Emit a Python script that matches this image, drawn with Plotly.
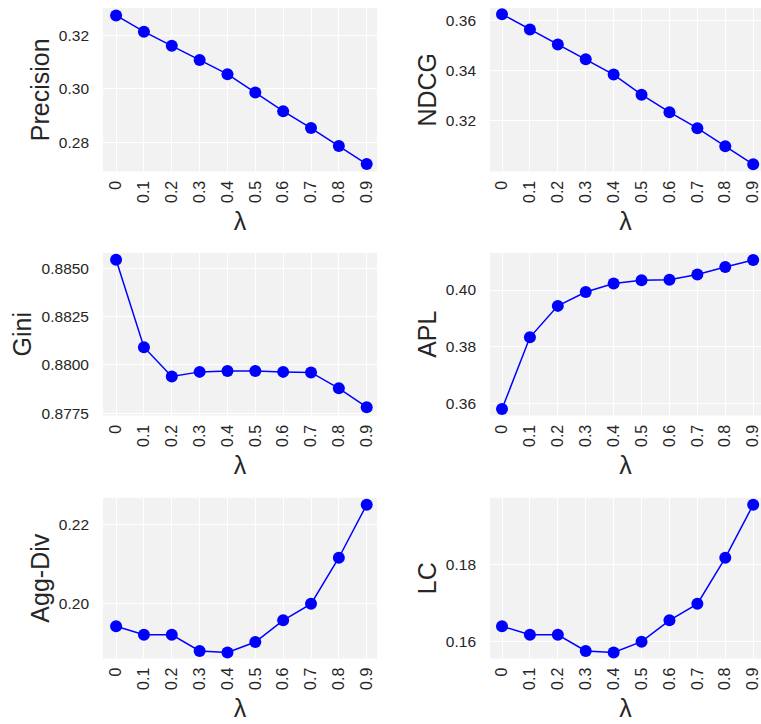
import plotly.graph_objects as go

lambdas = ["0", "0.1", "0.2", "0.3", "0.4", "0.5", "0.6", "0.7", "0.8", "0.9"]

precision = [0.3275, 0.3214, 0.3161, 0.3108, 0.3055, 0.2986, 0.2916, 0.2853, 0.2786, 0.2718]
ndcg = [0.3624, 0.3563, 0.3503, 0.3444, 0.3383, 0.3303, 0.3233, 0.3169, 0.3097, 0.3025]
gini = [0.88544, 0.88092, 0.87940, 0.87964, 0.87969, 0.87969, 0.87964, 0.87961, 0.87879, 0.87781]
apl = [0.3580, 0.3833, 0.3944, 0.3993, 0.4023, 0.4034, 0.4036, 0.4055, 0.4081, 0.4106]
agg_div = [0.19438, 0.19223, 0.19223, 0.18818, 0.18777, 0.19041, 0.19587, 0.2000, 0.21157, 0.22488]
lc = [0.16402, 0.16179, 0.16179, 0.15761, 0.15718, 0.16000, 0.16556, 0.16983, 0.18179, 0.19556]

panels = [
    ("Precision", precision, [0.28, 0.30, 0.32], ".2f", [0.2690, 0.3303]),
    ("NDCG", ndcg, [0.32, 0.34, 0.36], ".2f", [0.2996, 0.3649]),
    ("Gini", gini, [0.8775, 0.8800, 0.8825, 0.8850], ".4f", [0.87738, 0.8858]),
    ("APL", apl, [0.36, 0.38, 0.40], ".2f", [0.3557, 0.4131]),
    ("Agg-Div", agg_div, [0.20, 0.22], ".2f", [0.18628, 0.2266]),
    ("LC", lc, [0.16, 0.18], ".2f", [0.15564, 0.19735]),
]

W, H = 761, 724
col_px = [(103, 377), (490, 761)]
row_px = [(8, 173), (255, 419), (502, 664)]
xranges = [[-0.47, 9.37], [-0.43, 9.28]]

TXT = "#262626"
FONT = "Liberation Sans, Arial, sans-serif"

fig = go.Figure()
layout = dict(
    width=W, height=H,
    margin=dict(l=0, r=0, t=0, b=0),
    paper_bgcolor="white",
    plot_bgcolor="#f2f2f2",
    showlegend=False,
    font=dict(family=FONT, color=TXT),
)

for i, (name, vals, tv, fmt, yr) in enumerate(panels):
    r, c = divmod(i, 2)
    n = i + 1
    xa = "x" if n == 1 else f"x{n}"
    ya = "y" if n == 1 else f"y{n}"
    fig.add_trace(go.Scatter(
        x=lambdas, y=vals, mode="lines+markers",
        line=dict(color="#0000ff", width=1.5),
        marker=dict(color="#0000ff", size=12),
        xaxis=xa, yaxis=ya, cliponaxis=False,
    ))
    x0, x1 = col_px[c]
    y0, y1 = row_px[r]
    layout["xaxis" if n == 1 else f"xaxis{n}"] = dict(
        domain=[x0 / W, x1 / W], anchor=ya, type="category",
        range=xranges[c], tickangle=-90,
        tickfont=dict(size=16, color=TXT, family=FONT),
        showgrid=True, gridcolor="white", gridwidth=1,
        zeroline=False, showline=False, ticks="",
        ticklabelstandoff=5,
        title=dict(text="λ", font=dict(size=25, color=TXT, family=FONT), standoff=10),
    )
    layout["yaxis" if n == 1 else f"yaxis{n}"] = dict(
        domain=[1 - y1 / H, 1 - y0 / H], anchor=xa,
        range=yr, tickvals=tv, tickformat=fmt,
        tickfont=dict(size=15.5, color=TXT, family=FONT),
        showgrid=True, gridcolor="white", gridwidth=1,
        zeroline=False, showline=False, ticks="",
        ticklabelstandoff=13,
        title=dict(text=name, font=dict(size=25, color=TXT, family=FONT), standoff=2),
    )

fig.update_layout(**layout)
fig.write_html(
    "out.html",
    config={"displayModeBar": False},
    post_script="document.body.style.margin='0';document.body.style.overflow='hidden';",
)
